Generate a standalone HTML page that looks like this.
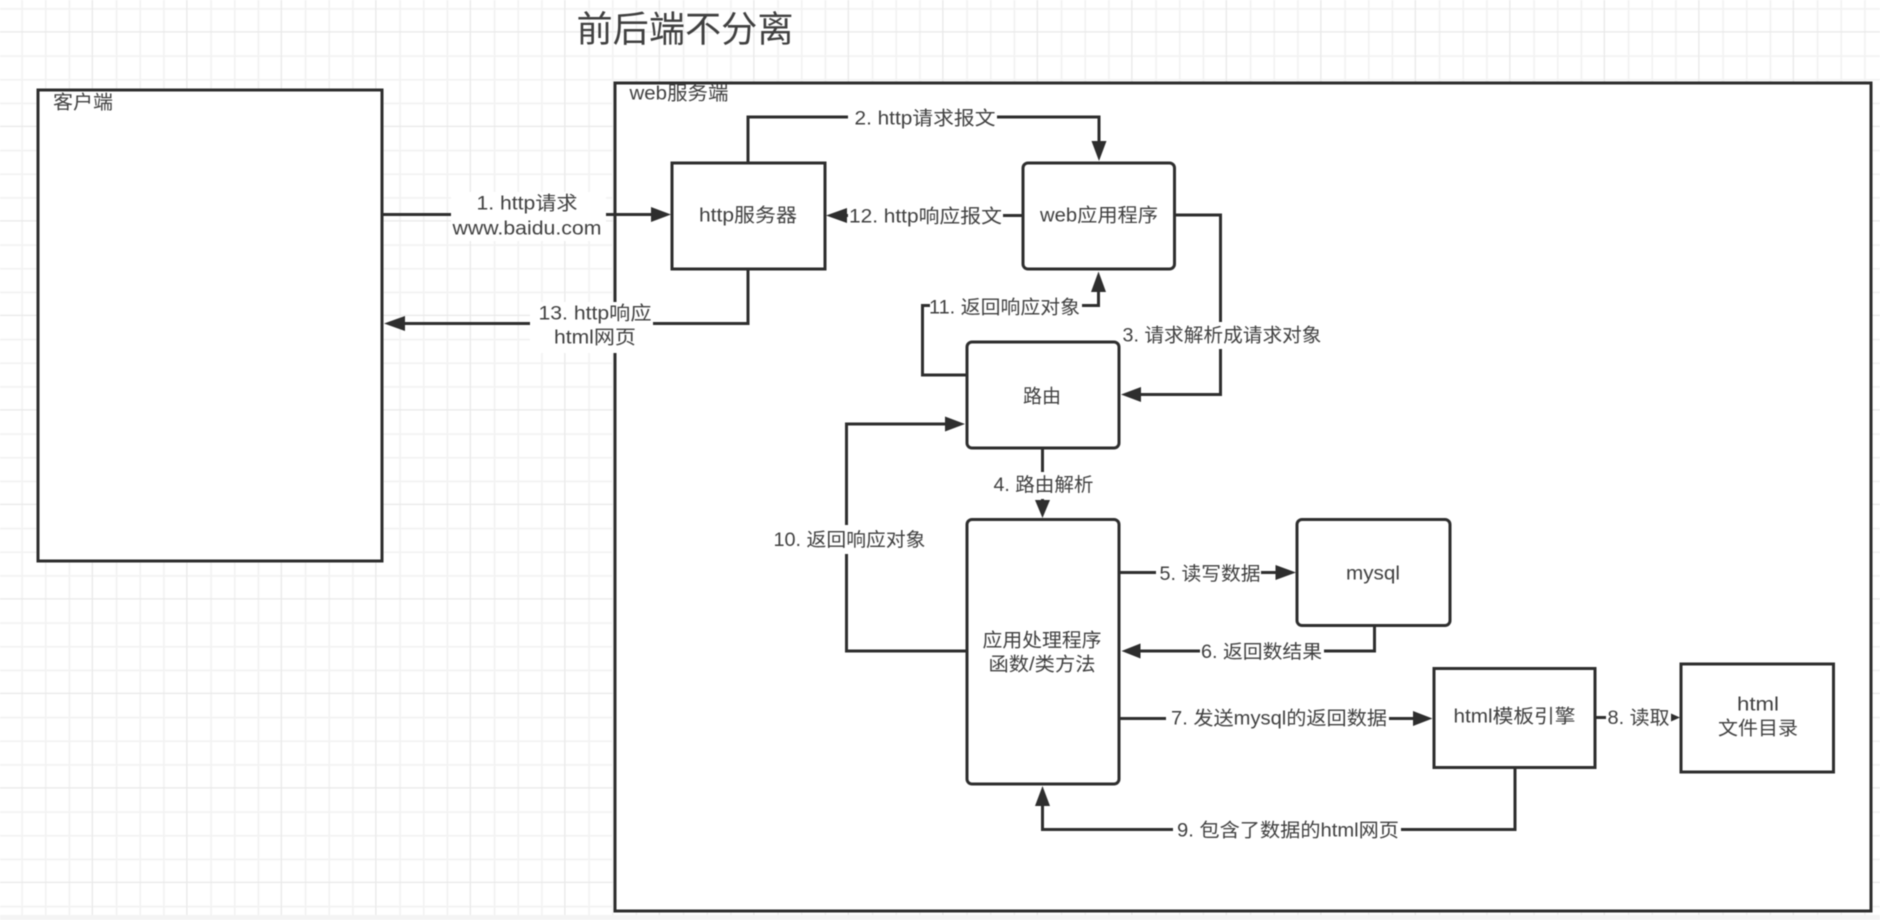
<!DOCTYPE html>
<html lang="zh">
<head>
<meta charset="utf-8">
<title>前后端不分离</title>
<style>
html,body{margin:0;padding:0;width:1880px;height:920px;overflow:hidden;background:#fff}
svg{display:block;filter:blur(0.5px)}
text{font-family:"Liberation Sans","Noto Sans CJK SC",sans-serif;font-size:19px;fill:#404040;text-anchor:middle;dominant-baseline:central}
.b{fill:#fff;stroke:#2e2e2e;stroke-width:3}
.l{fill:none;stroke:#2e2e2e;stroke-width:3}
.a{fill:#2e2e2e;stroke:none}
.w{fill:#fff;stroke:none}
</style>
</head>
<body>
<svg width="1880" height="920" viewBox="0 0 1880 920" xmlns="http://www.w3.org/2000/svg">
<defs>
<pattern id="g" patternUnits="userSpaceOnUse" x="-1.5" y="-62" width="94.5" height="94.5">
<path d="M23.6 0V94.5M47.25 0V94.5M70.9 0V94.5M0 23.6H94.5M0 47.25H94.5M0 70.9H94.5" stroke="#f3f3f3" stroke-width="1.8" fill="none"/>
<path d="M94.5 0V94.5M0 94.5H94.5" stroke="#e9e9e9" stroke-width="2.6" fill="none"/>
</pattern>
</defs>
<rect width="1880" height="920" fill="#fff"/>
<rect width="1880" height="915" fill="url(#g)"/>
<rect y="915" width="1880" height="5" fill="#f4f4f4"/>

<text x="685" y="29" style="font-size:36px" textLength="217" lengthAdjust="spacingAndGlyphs">前后端不分离</text>

<rect class="b" x="38" y="90" width="344" height="471"/>
<rect class="b" x="615" y="83" width="1256" height="828"/>
<text x="83" y="103" textLength="60" lengthAdjust="spacingAndGlyphs">客户端</text>
<text x="679" y="94" textLength="99" lengthAdjust="spacingAndGlyphs">web服务端</text>

<!-- connectors -->
<path class="l" d="M382 214.5H655"/><path class="a" d="M671 214.5L651 207V222Z"/>
<path class="l" d="M748 269V323.5H402"/><path class="a" d="M384 323.5L405 316V331Z"/>
<path class="l" d="M748 163V117H1099V143"/><path class="a" d="M1099 161L1091.5 141H1106.5Z"/>
<path class="l" d="M1023 215.5H845"/><path class="a" d="M826 215.5L847 208V223Z"/>
<path class="l" d="M1174 215H1220.5V394.5H1138"/><path class="a" d="M1121 394.5L1141 387V402Z"/>
<path class="l" d="M967 375H922.5V305.5H1098.5V290"/><path class="a" d="M1098.5 271.5L1091 292H1106Z"/>
<path class="l" d="M967 651H846.5V424H947"/><path class="a" d="M965 424L945 416.5V431.5Z"/>
<path class="l" d="M1042.5 448V503"/><path class="a" d="M1042.5 518L1035 500H1050Z"/>
<path class="l" d="M1119 572.5H1278"/><path class="a" d="M1296 572.5L1275.5 565V580Z"/>
<path class="l" d="M1374.5 625V651H1138"/><path class="a" d="M1121.5 651L1140.5 643.5V658.5Z"/>
<path class="l" d="M1119 718.5H1415"/><path class="a" d="M1432.5 718.5L1413 711V726Z"/>
<path class="l" d="M1595 717.5H1672"/><path class="a" d="M1680 717.5L1671 713.5V721.5Z"/>
<path class="l" d="M1515 767V829.5H1042.5V803"/><path class="a" d="M1042.5 786L1035 806H1050Z"/>

<!-- label backgrounds -->
<rect class="w" x="451" y="192" width="155" height="49"/>
<rect class="w" x="530" y="302" width="123" height="51"/>
<rect class="w" x="848" y="106" width="149" height="26"/>
<rect class="w" x="848" y="203" width="155" height="28"/>
<rect class="w" x="1123" y="322" width="199" height="27"/>
<rect class="w" x="930" y="294" width="152" height="26"/>
<rect class="w" x="773" y="525" width="152" height="29"/>
<rect class="w" x="990" y="472" width="106" height="27"/>
<rect class="w" x="1156" y="561" width="105" height="26"/>
<rect class="w" x="1200" y="639" width="124" height="26"/>
<rect class="w" x="1166" y="706" width="223" height="26"/>
<rect class="w" x="1606" y="705" width="65" height="26"/>
<rect class="w" x="1173" y="818" width="228" height="26"/>

<!-- nodes -->
<rect class="b" x="672" y="163" width="153" height="106"/>
<rect class="b" x="1023" y="163" width="151.500" height="106" rx="5"/>
<rect class="b" x="967" y="342" width="152" height="106" rx="5"/>
<rect class="b" x="967" y="519.500" width="152" height="264.500" rx="5"/>
<rect class="b" x="1297" y="519.500" width="153" height="106" rx="5"/>
<rect class="b" x="1434" y="668.500" width="161" height="99"/>
<rect class="b" x="1681" y="664" width="152.500" height="108"/>

<!-- node labels -->
<text x="748" y="216" textLength="98" lengthAdjust="spacingAndGlyphs">http服务器</text>
<text x="1099" y="216" textLength="118" lengthAdjust="spacingAndGlyphs">web应用程序</text>
<text x="1042" y="397" textLength="38" lengthAdjust="spacingAndGlyphs">路由</text>
<text x="1042" y="641" textLength="119" lengthAdjust="spacingAndGlyphs">应用处理程序</text>
<text x="1042" y="665" textLength="107" lengthAdjust="spacingAndGlyphs">函数/类方法</text>
<text x="1373" y="574" textLength="54" lengthAdjust="spacingAndGlyphs">mysql</text>
<text x="1514.500" y="717" textLength="122" lengthAdjust="spacingAndGlyphs">html模板引擎</text>
<text x="1758" y="705" textLength="42" lengthAdjust="spacingAndGlyphs">html</text>
<text x="1758" y="729" textLength="80" lengthAdjust="spacingAndGlyphs">文件目录</text>

<!-- connector labels -->
<text x="527" y="204" textLength="101" lengthAdjust="spacingAndGlyphs">1. http请求</text>
<text x="527" y="229" textLength="149" lengthAdjust="spacingAndGlyphs">www.baidu.com</text>
<text x="595" y="314" textLength="113" lengthAdjust="spacingAndGlyphs">13. http响应</text>
<text x="595" y="338" textLength="82" lengthAdjust="spacingAndGlyphs">html网页</text>
<text x="925" y="119" textLength="141" lengthAdjust="spacingAndGlyphs">2. http请求报文</text>
<text x="925.500" y="217" textLength="153" lengthAdjust="spacingAndGlyphs">12. http响应报文</text>
<text x="1222" y="336" textLength="199" lengthAdjust="spacingAndGlyphs">3. 请求解析成请求对象</text>
<text x="1004.500" y="308" textLength="151" lengthAdjust="spacingAndGlyphs">11. 返回响应对象</text>
<text x="849.500" y="540.500" textLength="152" lengthAdjust="spacingAndGlyphs">10. 返回响应对象</text>
<text x="1043.500" y="485.500" textLength="100" lengthAdjust="spacingAndGlyphs">4. 路由解析</text>
<text x="1210" y="574.500" textLength="101" lengthAdjust="spacingAndGlyphs">5. 读写数据</text>
<text x="1261.500" y="652.500" textLength="121" lengthAdjust="spacingAndGlyphs">6. 返回数结果</text>
<text x="1279" y="719" textLength="216" lengthAdjust="spacingAndGlyphs">7. 发送mysql的返回数据</text>
<text x="1638.500" y="718.500" textLength="62" lengthAdjust="spacingAndGlyphs">8. 读取</text>
<text x="1288" y="831" textLength="222" lengthAdjust="spacingAndGlyphs">9. 包含了数据的html网页</text>
</svg>
</body>
</html>
